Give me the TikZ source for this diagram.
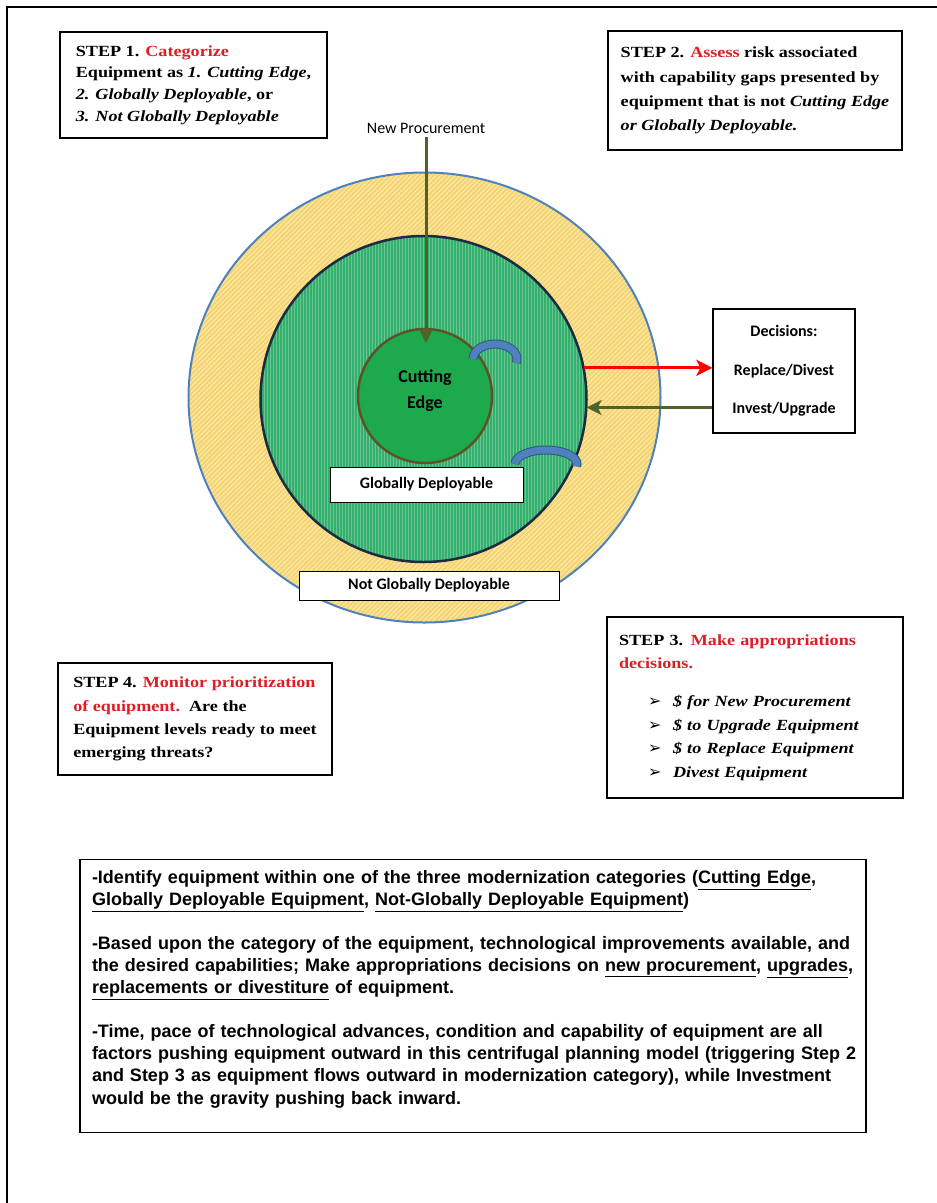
\documentclass[tikz,border=0pt]{standalone}
\usepackage{fontspec}
\setmainfont{Liberation Serif}
\newfontfamily\stepfont[FakeStretch=1.17]{Liberation Serif}
\newfontfamily\calfont{Carlito}
\newfontfamily\notefont{Liberation Sans}
\newfontfamily\arrowfont{DejaVu Sans}
\usetikzlibrary{arrows.meta,patterns.meta}

\definecolor{stepred}{RGB}{218,32,36}
\definecolor{olivegreen}{RGB}{79,98,40}
\definecolor{ringblue}{RGB}{79,129,189}
\definecolor{ringyellow}{RGB}{245,212,115}
\definecolor{hatchyellow}{RGB}{252,234,170}
\definecolor{midgreen}{RGB}{52,176,110}
\definecolor{midstripe}{RGB}{105,198,145}
\definecolor{midedge}{RGB}{28,42,66}
\definecolor{cutgreen}{RGB}{28,170,76}
\definecolor{cutedge}{RGB}{92,84,40}
\definecolor{arcblue}{RGB}{79,129,189}
\definecolor{arcedge}{RGB}{52,86,130}

\tikzset{
  stepbox/.style={draw, line width=2.4pt, fill=white, align=left, inner sep=0pt},
  labelbox/.style={draw, line width=1pt, fill=white, inner sep=0pt,
    font=\calfont\bfseries\fontsize{16}{19}\selectfont},
  procarrow/.style={draw=olivegreen, line width=3pt,
    -{Stealth[length=15pt,width=15pt,inset=4pt]}},
  redarrow/.style={draw=red, line width=3pt,
    -{Stealth[length=16pt,width=16pt,inset=4pt]}},
  turnarc/.style={draw=arcedge, line width=1pt, double=arcblue, double distance=7pt},
}

\begin{document}
\begin{tikzpicture}[x=1pt, y=-1pt]
\useasboundingbox (0,0) rectangle (937,1203);
\draw[line width=2pt] (937,7) -- (7,7) -- (7,1203);

% the three rings
\draw[draw=ringblue, line width=2pt, preaction={fill=ringyellow},
  pattern={Lines[angle=45,distance=3.4pt,line width=1pt]}, pattern color=hatchyellow]
  (424.5,397.5) ellipse [x radius=236, y radius=225];
\node[circle, minimum size=326pt, inner sep=0pt, draw=midedge, line width=2.5pt,
  preaction={fill=midgreen},
  pattern={Lines[angle=90,distance=3pt,line width=0.7pt]}, pattern color=midstripe]
  (mid) at (423.5,399) {};
\node[circle, minimum size=134pt, inner sep=0pt, fill=cutgreen, draw=cutedge, line width=2.5pt,
  align=center, text depth=14pt, font=\calfont\bfseries\fontsize{18}{26}\selectfont]
  (cut) at (425,396) {Cutting\\Edge};

\draw[turnarc] (473,359) arc[start angle=180, end angle=375, x radius=22, y radius=15];
\draw[turnarc] (515,464) arc[start angle=180, end angle=370, x radius=31, y radius=14];

\node[labelbox, minimum width=193pt, minimum height=35pt] (glob) at (426.5,484.5) {Globally Deployable};
\node[labelbox, minimum width=260pt, minimum height=29pt] (notglob) at (429,585.5) {Not Globally Deployable};

% new procurement
\node[font=\calfont\fontsize{16}{19}\selectfont] (newproc) at (426,128) {New Procurement};
\coordinate (tip) at (426,343);
\draw[procarrow] (newproc) -- (tip);

% decisions
\node[draw, line width=1.2pt, fill=white, minimum width=142pt, minimum height=124pt, align=center,
  font=\calfont\bfseries\fontsize{16}{38.5}\selectfont]
  (dec) at (784,371) {Decisions:\\Replace/Divest\\Invest/Upgrade};
\draw[redarrow] (mid.11) -- (mid.11 -| dec.west);
\draw[procarrow] (mid.-3 -| dec.west) -- (mid.-3);

% steps
\node[stepbox, minimum width=267pt, minimum height=106pt,
  font=\stepfont\bfseries\fontsize{15.5}{21.7}\selectfont] (step1) at (193.5,85)
  {STEP 1. \textcolor{stepred}{Categorize}\\
   Equipment as \textit{1. Cutting Edge},\\
   \textit{2. Globally Deployable}, or\\
   \textit{3. Not Globally Deployable}};
\node[stepbox, minimum width=294pt, minimum height=119pt,
  font=\stepfont\bfseries\fontsize{15.5}{24.3}\selectfont] (step2) at (755,90.5)
  {STEP 2. \textcolor{stepred}{Assess} risk associated\\
   with capability gaps presented by\\
   equipment that is not \textit{Cutting Edge}\\
   \textit{or Globally Deployable.}};
\node[stepbox, minimum height=181pt, inner xsep=12pt, text width=272pt,
  font=\stepfont\bfseries\fontsize{15.5}{23.6}\selectfont] (step3) at (755,707.5)
  {STEP 3. \textcolor{stepred}{Make appropriations}\\
   \textcolor{stepred}{decisions.}\\[14pt]
   \hspace*{29pt}\makebox[25pt][l]{\arrowfont\fontsize{16}{16}\selectfont ➢}\textit{\$ for New Procurement}\\
   \hspace*{29pt}\makebox[25pt][l]{\arrowfont\fontsize{16}{16}\selectfont ➢}\textit{\$ to Upgrade Equipment}\\
   \hspace*{29pt}\makebox[25pt][l]{\arrowfont\fontsize{16}{16}\selectfont ➢}\textit{\$ to Replace Equipment}\\
   \hspace*{29pt}\makebox[25pt][l]{\arrowfont\fontsize{16}{16}\selectfont ➢}\textit{Divest Equipment}};
\node[stepbox, minimum width=274pt, minimum height=112pt,
  font=\stepfont\bfseries\fontsize{15.5}{23.3}\selectfont] (step4) at (195,719)
  {STEP 4. \textcolor{stepred}{Monitor prioritization}\\
   \textcolor{stepred}{of equipment.}~~Are the\\
   Equipment levels ready to meet\\
   emerging threats?};

% notes
\node[draw, line width=1.2pt, anchor=north, align=left, inner xsep=12pt, inner ysep=11pt,
  text width=762pt, text height=13pt, text depth=238pt,
  font=\notefont\bfseries\fontsize{18}{22.3}\selectfont] (notes) at (473,859)
  {-Identify equipment within one of the three modernization categories (\underline{Cutting Edge},\\
   \underline{Globally Deployable Equipment}, \underline{Not-Globally Deployable Equipment})\\[21pt]
   -Based upon the category of the equipment, technological improvements available, and\\
   the desired capabilities; Make appropriations decisions on \underline{new procurement}, \underline{upgrades},\\
   \underline{replacements or divestiture} of equipment.\\[21pt]
   -Time, pace of technological advances, condition and capability of equipment are all\\
   \mbox{factors pushing equipment outward in this centrifugal planning model (triggering Step 2}\\
   and Step 3 as equipment flows outward in modernization category), while Investment\\
   would be the gravity pushing back inward.};
\end{tikzpicture}
\end{document}
